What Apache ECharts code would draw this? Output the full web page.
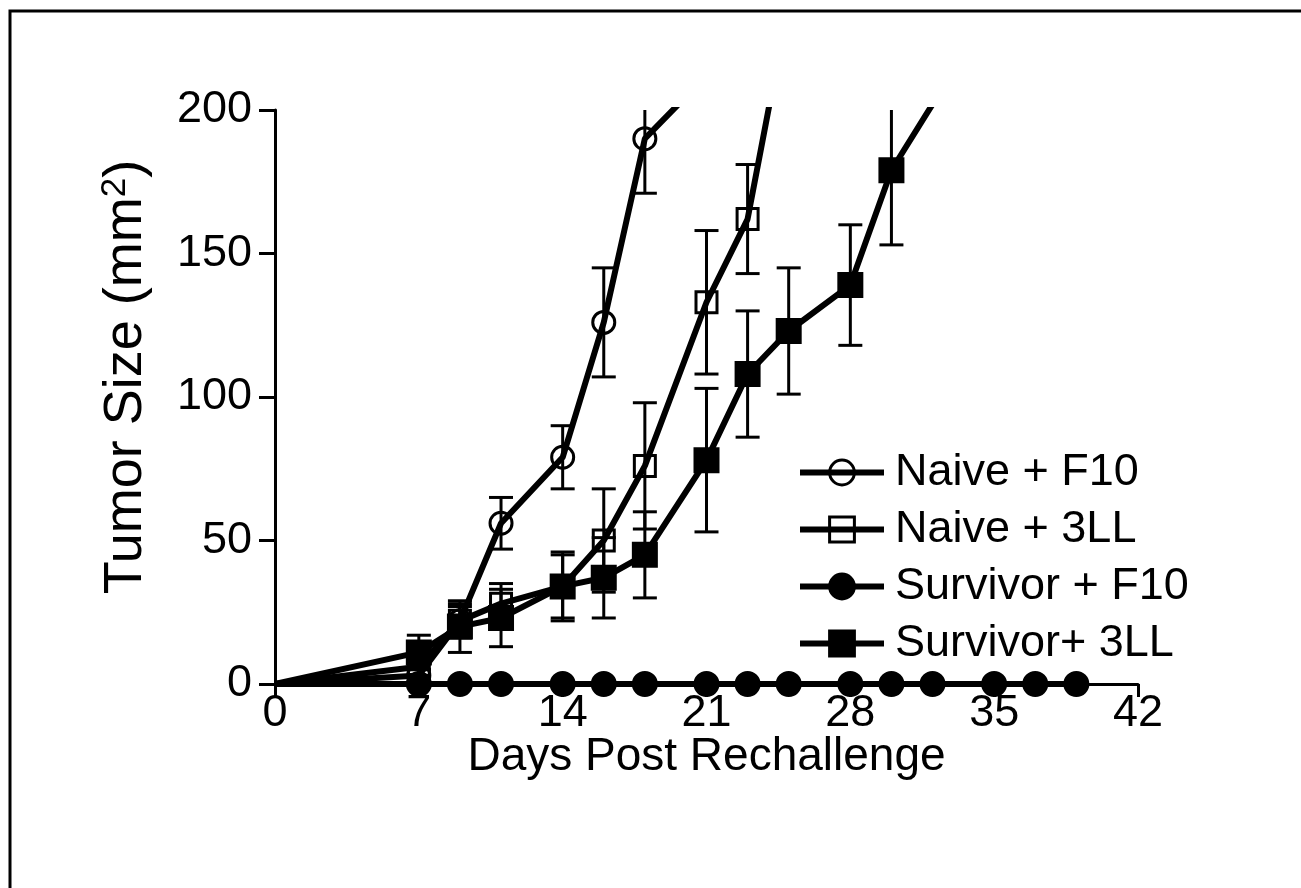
<!DOCTYPE html>
<html><head><meta charset="utf-8">
<script src="https://cdn.jsdelivr.net/npm/echarts@6/dist/echarts.min.js"></script>
<style>html,body{margin:0;padding:0;background:#fff}#c{width:1301px;height:888px}</style>
</head><body><div id="c"></div>
<script>
const FONT = 'Liberation Sans, Arial, sans-serif';
const xTicks = [0, 7, 14, 21, 28, 35, 42];
const yTicks = [0, 50, 100, 150, 200];
const seriesNames = ['Naive + F10', 'Naive + 3LL', 'Survivor + F10', 'Survivor+ 3LL'];

const daysNaiveF10 = [0, 7, 9, 11, 14, 16, 18, 21];
const naiveF10 = [0, 3, 22, 56, 79, 126, 190, 212];
const naiveF10Err = [0, 2, 5, 9, 11, 19, 19, 0];

const daysNaive3LL = [0, 7, 9, 11, 14, 16, 18, 21, 23, 25];
const naive3LL = [0, 6, 22, 28, 34, 50, 76, 133, 162, 237];
const naive3LLErr = [0, 3, 6, 7, 12, 18, 22, 25, 19, 0];

const daysSurvF10 = [0, 7, 9, 11, 14, 16, 18, 21, 23, 25, 28, 30, 32, 35, 37, 39];
const survF10 = [0, 0, 0, 0, 0, 0, 0, 0, 0, 0, 0, 0, 0, 0, 0, 0];

const daysSurv3LL = [0, 7, 9, 11, 14, 16, 18, 21, 23, 25, 28, 30, 32];
const surv3LL = [0, 11, 20, 23, 34, 37, 45, 78, 108, 123, 139, 179, 202];
const surv3LLErr = [0, 6, 9, 10, 11, 14, 15, 25, 22, 22, 21, 26, 0];

function pts(days, vals) {
  return days.map((d, i) => i === 0 ? { value: [d, vals[i]], symbol: 'none' } : [d, vals[i]]);
}
function errs(days, vals, e) {
  const out = [];
  days.forEach((d, i) => { if (e[i] > 0) out.push([d, vals[i] - e[i], vals[i] + e[i]]); });
  return out;
}
function renderErr(params, api) {
  const cs = params.coordSys;
  const x = api.coord([api.value(0), 0])[0];
  let yLo = api.coord([0, api.value(1)])[1];
  let yHi = api.coord([0, api.value(2)])[1];
  const top = cs.y, bottom = cs.y + cs.height;
  const capHi = yHi >= top - 0.5, capLo = yLo <= bottom + 0.5;
  yHi = Math.max(yHi, top); yLo = Math.min(yLo, bottom);
  const hw = 12;
  const st = { stroke: '#000', lineWidth: 3 };
  const ch = [{ type: 'line', shape: { x1: x, y1: yHi, x2: x, y2: yLo }, style: st }];
  if (capHi) ch.push({ type: 'line', shape: { x1: x - hw, y1: yHi, x2: x + hw, y2: yHi }, style: st });
  if (capLo) ch.push({ type: 'line', shape: { x1: x - hw, y1: yLo, x2: x + hw, y2: yLo }, style: st });
  return { type: 'group', children: ch };
}
function lineSeries(name, data, symbol, size, fill) {
  return {
    name, type: 'line', data, symbol, symbolSize: size, z: 2,
    lineStyle: { color: '#000', width: 6 },
    itemStyle: { color: fill, borderColor: '#000', borderWidth: 3 },
    emphasis: { disabled: true }, animation: false
  };
}
function errSeries(name, data) {
  return { name, type: 'custom', data, renderItem: renderErr, z: 4, animation: false, encode: { x: 0, y: [1, 2] }, silent: true };
}

const chart = echarts.init(document.getElementById('c'), null, { renderer: 'canvas' });
chart.setOption({
  backgroundColor: '#fff',
  animation: false,
  grid: { left: 275, right: 163, top: 110, bottom: 204, containLabel: false, outerBoundsMode: 'none' },
  graphic: [{ type: 'polyline', shape: { points: [[10, 888], [10, 11], [1301, 11]] }, style: { stroke: '#000', lineWidth: 3, fill: null }, z: 100 }],
  legend: {
    orient: 'vertical', left: 792, top: 445, itemWidth: 84, itemHeight: 31, itemGap: 12,
    data: seriesNames, selectedMode: false,
    itemStyle: { borderWidth: 3 },
    lineStyle: { width: 6, color: '#000' },
    textStyle: { fontFamily: FONT, fontSize: 45, color: '#000', lineHeight: 45, padding: [0, 0, 0, 6] }
  },
  xAxis: {
    type: 'value', min: xTicks[0], max: xTicks[xTicks.length - 1], interval: 7,
    name: 'Days Post Rechallenge', nameLocation: 'middle', nameGap: 50, nameMoveOverlap: false,
    nameTextStyle: { fontFamily: FONT, fontSize: 46, color: '#000' },
    axisLine: { lineStyle: { color: '#000', width: 3 } },
    axisTick: { length: 13, lineStyle: { color: '#000', width: 3 } },
    axisLabel: { fontFamily: FONT, fontSize: 45, color: '#000', margin: 7 },
    splitLine: { show: false }
  },
  yAxis: {
    type: 'value', min: yTicks[0], max: yTicks[yTicks.length - 1], interval: 50,
    name: '{a|Tumor Size (mm}{s|2}{a|)}', nameLocation: 'middle', nameGap: 121, nameMoveOverlap: false,
    nameTextStyle: { padding: [0, 0, 0, 40], rich: { a: { fontFamily: FONT, fontSize: 54, color: '#000', lineHeight: 56 }, s: { fontFamily: FONT, fontSize: 35, color: '#000', verticalAlign: 'top', lineHeight: 35 } } },
    axisLine: { show: true, lineStyle: { color: '#000', width: 3 } },
    axisTick: { show: true, length: 16, lineStyle: { color: '#000', width: 3 } },
    axisLabel: { fontFamily: FONT, fontSize: 45, color: '#000', margin: 23 },
    splitLine: { show: false }
  },
  series: [
    lineSeries(seriesNames[0], pts(daysNaiveF10, naiveF10), 'circle', 22, 'rgba(255,255,255,0)'),
    lineSeries(seriesNames[1], pts(daysNaive3LL, naive3LL), 'rect', 21, 'rgba(255,255,255,0)'),
    lineSeries(seriesNames[2], pts(daysSurvF10, survF10), 'circle', 23, '#000'),
    lineSeries(seriesNames[3], pts(daysSurv3LL, surv3LL), 'rect', 23, '#000'),
    errSeries('errNF10', errs(daysNaiveF10, naiveF10, naiveF10Err)),
    errSeries('errN3LL', errs(daysNaive3LL, naive3LL, naive3LLErr)),
    errSeries('errS3LL', errs(daysSurv3LL, surv3LL, surv3LLErr))
  ]
});
</script></body></html>
